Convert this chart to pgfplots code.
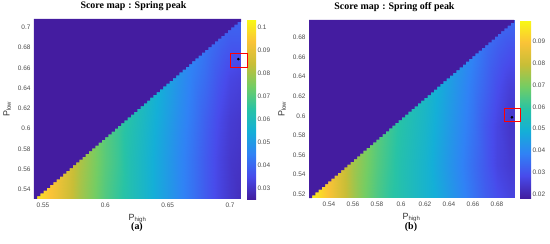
\documentclass[border=0pt]{standalone}
\usepackage{pgfplots}
\pgfplotsset{compat=1.18}
\usepackage{fontspec}
\setmainfont{Liberation Serif}
\setsansfont{Liberation Sans}
\pgfplotsset{
  colorbar shift/.style={xshift=0pt},
  colormap={parula}{rgb255=(66,30,160) rgb255=(72,75,235) rgb255=(48,130,245) rgb255=(20,175,215) rgb255=(40,195,165) rgb255=(115,205,100) rgb255=(200,190,55) rgb255=(250,195,55) rgb255=(249,250,20)},
  myax/.style={
    anchor=south west, scale only axis, enlargelimits=false,
    axis line style={draw=none}, major tick style={draw=none},
    /pgf/number format/assume math mode=true,
    ticklabel style={font=\sffamily\fontsize{6.5}{7}\selectfont, text=black!70},
    label style={font=\sffamily\fontsize{9}{10}\selectfont, text=black!80},
    title style={font=\bfseries\fontsize{10}{12}\selectfont, yshift=-1bp},
    colorbar,
    clip=false,
  },
  mycb/.style={at={(parent axis.north east)}, anchor=north west, xshift=6bp, scale only axis,
    scaled ticks=false, axis line style={draw=none}, major tick style={draw=none},
    /pgf/number format/assume math mode=true,
    yticklabel style={font=\sffamily\fontsize{6.5}{7}\selectfont, text=black!70, xshift=-2bp}},
}
\definecolor{maskc}{RGB}{68,28,160}
\newcommand{\tcolon}{\hspace{0.3em}:\hspace{0.3em}}
\begin{document}
\begin{tikzpicture}
\path[use as bounding box] (0,0) rectangle (550bp,244bp);
% ---------------- (a) ----------------
\begin{axis}[myax, at={(34bp,45bp)}, width=207bp, height=180bp,
  xmin=0.5428, xmax=0.7088, ymin=0.5304, ymax=0.7083,
  xtick={0.55,0.6,0.65,0.7}, xticklabels={0.55,0.6,0.65,0.7},
  ytick={0.54,0.56,0.58,0.6,0.62,0.64,0.66,0.68,0.7},
  yticklabels={0.54,0.56,0.58,0.6,0.62,0.64,0.66,0.68,0.7},
  xlabel={P\textsubscript{high}}, ylabel={P\textsubscript{low}},
  title={Score map\tcolon Spring peak}, title style={xshift=-4bp},
  point meta min=0.0253, point meta max=0.1037,
  colorbar style={mycb, width=9bp,
    ytick={0.03,0.04,0.05,0.06,0.07,0.08,0.09,0.1}, yticklabels={0.03,0.04,0.05,0.06,0.07,0.08,0.09,0.1}},
]
\addplot[surf, shader=interp, mesh/cols=18, point meta=explicit] table[x=x, y=y, meta=v] {
x y v
0.5428 0.5304 0.101
0.55 0.5304 0.097
0.56 0.5304 0.092
0.57 0.5304 0.086
0.58 0.5304 0.080
0.59 0.5304 0.075
0.60 0.5304 0.070
0.61 0.5304 0.066
0.62 0.5304 0.062
0.63 0.5304 0.058
0.64 0.5304 0.054
0.65 0.5304 0.050
0.66 0.5304 0.046
0.67 0.5304 0.042
0.68 0.5304 0.038
0.69 0.5304 0.034
0.70 0.5304 0.031
0.7088 0.5304 0.029

0.5428 0.57 0.101
0.55 0.57 0.097
0.56 0.57 0.093
0.57 0.57 0.087
0.58 0.57 0.081
0.59 0.57 0.076
0.60 0.57 0.071
0.61 0.57 0.067
0.62 0.57 0.062
0.63 0.57 0.058
0.64 0.57 0.054
0.65 0.57 0.050
0.66 0.57 0.046
0.67 0.57 0.042
0.68 0.57 0.038
0.69 0.57 0.034
0.70 0.57 0.031
0.7088 0.57 0.030

0.5428 0.61 0.101
0.55 0.61 0.097
0.56 0.61 0.093
0.57 0.61 0.087
0.58 0.61 0.081
0.59 0.61 0.076
0.60 0.61 0.071
0.61 0.61 0.067
0.62 0.61 0.063
0.63 0.61 0.059
0.64 0.61 0.055
0.65 0.61 0.051
0.66 0.61 0.047
0.67 0.61 0.043
0.68 0.61 0.039
0.69 0.61 0.035
0.70 0.61 0.032
0.7088 0.61 0.031

0.5428 0.65 0.101
0.55 0.65 0.097
0.56 0.65 0.093
0.57 0.65 0.087
0.58 0.65 0.081
0.59 0.65 0.076
0.60 0.65 0.071
0.61 0.65 0.067
0.62 0.65 0.063
0.63 0.65 0.060
0.64 0.65 0.056
0.65 0.65 0.052
0.66 0.65 0.048
0.67 0.65 0.044
0.68 0.65 0.041
0.69 0.65 0.037
0.70 0.65 0.034
0.7088 0.65 0.033

0.5428 0.69 0.101
0.55 0.69 0.097
0.56 0.69 0.093
0.57 0.69 0.087
0.58 0.69 0.081
0.59 0.69 0.076
0.60 0.69 0.071
0.61 0.69 0.067
0.62 0.69 0.063
0.63 0.69 0.060
0.64 0.69 0.057
0.65 0.69 0.053
0.66 0.69 0.049
0.67 0.69 0.046
0.68 0.69 0.043
0.69 0.69 0.040
0.70 0.69 0.038
0.7088 0.69 0.038

0.5428 0.7083 0.101
0.55 0.7083 0.097
0.56 0.7083 0.093
0.57 0.7083 0.087
0.58 0.7083 0.081
0.59 0.7083 0.076
0.60 0.7083 0.071
0.61 0.7083 0.067
0.62 0.7083 0.063
0.63 0.7083 0.060
0.64 0.7083 0.057
0.65 0.7083 0.053
0.66 0.7083 0.050
0.67 0.7083 0.047
0.68 0.7083 0.044
0.69 0.7083 0.041
0.70 0.7083 0.040
0.7088 0.7083 0.039
};
\addplot[const plot, draw=none, fill=maskc] coordinates {
(0.5428,0.7083) (0.5428,0.5304)
(0.5454,0.5332) (0.5480,0.5360) (0.5506,0.5387) (0.5532,0.5415) (0.5558,0.5443)
(0.5583,0.5471) (0.5609,0.5499) (0.5635,0.5526) (0.5661,0.5554) (0.5687,0.5582)
(0.5713,0.5610) (0.5739,0.5638) (0.5765,0.5665) (0.5791,0.5693) (0.5817,0.5721)
(0.5842,0.5749) (0.5868,0.5777) (0.5894,0.5804) (0.5920,0.5832) (0.5946,0.5860)
(0.5972,0.5888) (0.5998,0.5916) (0.6024,0.5943) (0.6050,0.5971) (0.6076,0.5999)
(0.6101,0.6027) (0.6127,0.6055) (0.6153,0.6082) (0.6179,0.6110) (0.6205,0.6138)
(0.6231,0.6166) (0.6257,0.6194) (0.6283,0.6221) (0.6309,0.6249) (0.6335,0.6277)
(0.6360,0.6305) (0.6386,0.6333) (0.6412,0.6360) (0.6438,0.6388) (0.6464,0.6416)
(0.6490,0.6444) (0.6516,0.6472) (0.6542,0.6499) (0.6568,0.6527) (0.6594,0.6555)
(0.6619,0.6583) (0.6645,0.6611) (0.6671,0.6638) (0.6697,0.6666) (0.6723,0.6694)
(0.6749,0.6722) (0.6775,0.6750) (0.6801,0.6777) (0.6827,0.6805) (0.6853,0.6833)
(0.6878,0.6861) (0.6904,0.6889) (0.6930,0.6916) (0.6956,0.6944) (0.6982,0.6972)
(0.7008,0.7000) (0.7034,0.7028) (0.7060,0.7055) (0.7088,0.7083)
};
\addplot[only marks, mark=*, mark size=1.1bp, black] coordinates {(0.7067,0.6687)};
\coordinate (ra1) at (axis cs:0.7005,0.6602);
\coordinate (ra2) at (axis cs:0.7136,0.6744);
\node[font=\bfseries\fontsize{10}{12}\selectfont] at (rel axis cs:0.4976,-0.155) {(a)};
\end{axis}
\draw[red, line width=0.9bp] (ra1) rectangle (ra2);
% ---------------- (b) ----------------
\begin{axis}[myax, at={(309bp,46bp)}, width=205bp, height=178bp,
  xmin=0.5233, xmax=0.6942, ymin=0.5162, ymax=0.6976,
  xtick={0.54,0.56,0.58,0.6,0.62,0.64,0.66,0.68}, xticklabels={0.54,0.56,0.58,0.6,0.62,0.64,0.66,0.68},
  ytick={0.52,0.54,0.56,0.58,0.6,0.62,0.64,0.66,0.68},
  yticklabels={0.52,0.54,0.56,0.58,0.6,0.62,0.64,0.66,0.68},
  xlabel={P\textsubscript{high}}, ylabel={P\textsubscript{low}},
  title={Score map\tcolon Spring off peak}, title style={xshift=-17bp},
  point meta min=0.0183, point meta max=0.0997,
  colorbar style={mycb, width=11bp,
    ytick={0.02,0.03,0.04,0.05,0.06,0.07,0.08,0.09}, yticklabels={0.02,0.03,0.04,0.05,0.06,0.07,0.08,0.09}},
]
\addplot[surf, shader=interp, mesh/cols=19, point meta=explicit] table[x=x, y=y, meta=v] {
x y v
0.5233 0.5162 0.098
0.53 0.5162 0.095
0.54 0.5162 0.089
0.55 0.5162 0.082
0.56 0.5162 0.075
0.57 0.5162 0.069
0.58 0.5162 0.064
0.59 0.5162 0.060
0.60 0.5162 0.057
0.61 0.5162 0.054
0.62 0.5162 0.051
0.63 0.5162 0.048
0.64 0.5162 0.044
0.65 0.5162 0.040
0.66 0.5162 0.036
0.67 0.5162 0.032
0.68 0.5162 0.029
0.69 0.5162 0.027
0.6942 0.5162 0.027

0.5233 0.55 0.098
0.53 0.55 0.095
0.54 0.55 0.089
0.55 0.55 0.082
0.56 0.55 0.075
0.57 0.55 0.070
0.58 0.55 0.065
0.59 0.55 0.061
0.60 0.55 0.057
0.61 0.55 0.054
0.62 0.55 0.051
0.63 0.55 0.047
0.64 0.55 0.043
0.65 0.55 0.039
0.66 0.55 0.035
0.67 0.55 0.031
0.68 0.55 0.027
0.69 0.55 0.025
0.6942 0.55 0.025

0.5233 0.59 0.098
0.53 0.59 0.095
0.54 0.59 0.089
0.55 0.59 0.082
0.56 0.59 0.076
0.57 0.59 0.071
0.58 0.59 0.066
0.59 0.59 0.062
0.60 0.59 0.058
0.61 0.59 0.055
0.62 0.59 0.052
0.63 0.59 0.048
0.64 0.59 0.044
0.65 0.59 0.040
0.66 0.59 0.036
0.67 0.59 0.031
0.68 0.59 0.027
0.69 0.59 0.024
0.6942 0.59 0.024

0.5233 0.63 0.098
0.53 0.63 0.095
0.54 0.63 0.089
0.55 0.63 0.082
0.56 0.63 0.076
0.57 0.63 0.071
0.58 0.63 0.066
0.59 0.63 0.062
0.60 0.63 0.059
0.61 0.63 0.056
0.62 0.63 0.053
0.63 0.63 0.049
0.64 0.63 0.045
0.65 0.63 0.041
0.66 0.63 0.037
0.67 0.63 0.033
0.68 0.63 0.029
0.69 0.63 0.026
0.6942 0.63 0.026

0.5233 0.67 0.098
0.53 0.67 0.095
0.54 0.67 0.089
0.55 0.67 0.082
0.56 0.67 0.076
0.57 0.67 0.071
0.58 0.67 0.066
0.59 0.67 0.062
0.60 0.67 0.059
0.61 0.67 0.056
0.62 0.67 0.053
0.63 0.67 0.050
0.64 0.67 0.046
0.65 0.67 0.043
0.66 0.67 0.039
0.67 0.67 0.035
0.68 0.67 0.032
0.69 0.67 0.030
0.6942 0.67 0.030

0.5233 0.6976 0.098
0.53 0.6976 0.095
0.54 0.6976 0.089
0.55 0.6976 0.082
0.56 0.6976 0.076
0.57 0.6976 0.071
0.58 0.6976 0.066
0.59 0.6976 0.062
0.60 0.6976 0.059
0.61 0.6976 0.056
0.62 0.6976 0.053
0.63 0.6976 0.050
0.64 0.6976 0.048
0.65 0.6976 0.045
0.66 0.6976 0.041
0.67 0.6976 0.038
0.68 0.6976 0.035
0.69 0.6976 0.034
0.6942 0.6976 0.034
};
\addplot[const plot, draw=none, fill=maskc] coordinates {
(0.5233,0.6976) (0.5233,0.5162)
(0.5260,0.5190) (0.5286,0.5219) (0.5313,0.5247) (0.5340,0.5275) (0.5367,0.5304)
(0.5393,0.5332) (0.5420,0.5360) (0.5447,0.5389) (0.5473,0.5417) (0.5500,0.5445)
(0.5527,0.5474) (0.5553,0.5502) (0.5580,0.5530) (0.5607,0.5559) (0.5634,0.5587)
(0.5660,0.5615) (0.5687,0.5644) (0.5714,0.5672) (0.5740,0.5700) (0.5767,0.5729)
(0.5794,0.5757) (0.5820,0.5785) (0.5847,0.5814) (0.5874,0.5842) (0.5901,0.5871)
(0.5927,0.5899) (0.5954,0.5927) (0.5981,0.5956) (0.6007,0.5984) (0.6034,0.6012)
(0.6061,0.6041) (0.6088,0.6069) (0.6114,0.6097) (0.6141,0.6126) (0.6167,0.6154)
(0.6194,0.6182) (0.6221,0.6211) (0.6248,0.6239) (0.6274,0.6267) (0.6301,0.6296)
(0.6328,0.6324) (0.6354,0.6352) (0.6381,0.6381) (0.6408,0.6409) (0.6435,0.6437)
(0.6461,0.6466) (0.6488,0.6494) (0.6515,0.6522) (0.6541,0.6551) (0.6568,0.6579)
(0.6595,0.6607) (0.6621,0.6636) (0.6648,0.6664) (0.6675,0.6692) (0.6702,0.6721)
(0.6728,0.6749) (0.6755,0.6777) (0.6782,0.6806) (0.6808,0.6834) (0.6835,0.6862)
(0.6862,0.6891) (0.6888,0.6919) (0.6915,0.6947) (0.6942,0.6976)
};
\addplot[only marks, mark=*, mark size=1.1bp, black] coordinates {(0.6925,0.5984)};
\coordinate (rb1) at (axis cs:0.6863,0.5939);
\coordinate (rb2) at (axis cs:0.6997,0.6079);
\node[font=\bfseries\fontsize{10}{12}\selectfont] at (rel axis cs:0.4976,-0.165) {(b)};
\end{axis}
\draw[red, line width=0.9bp] (rb1) rectangle (rb2);
\end{tikzpicture}
\end{document}
